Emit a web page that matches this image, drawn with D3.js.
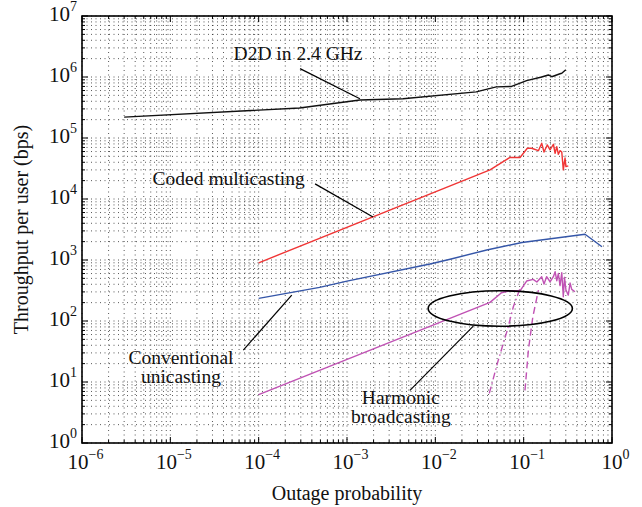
<!DOCTYPE html>
<html>
<head>
<meta charset="utf-8">
<script src="https://cdn.jsdelivr.net/npm/d3@7"></script>
<style>
    body { margin: 0; background: #fff; }
    text { font-family: "Liberation Serif", "DejaVu Serif", serif; fill: #111; }
</style>
</head>
<body>
<div id="chart"></div>
<script>
// Series values (outage probability, throughput in bps)
const d2dX = [3e-6, 2.9e-4, 1.4e-3, 4.3e-3, 0.029, 0.049, 0.073, 0.108, 0.16, 0.19, 0.208, 0.258, 0.27, 0.30];
const d2dY = [2.2e5, 3.1e5, 4.2e5, 4.4e5, 5.7e5, 6.9e5, 7.0e5, 8.7e5, 1.0e6, 1.08e6, 1.01e6, 1.13e6, 1.15e6, 1.32e6];

const codedX = [1e-4, 0.0416, 0.070, 0.091, 0.110, 0.123, 0.147, 0.160, 0.170, 0.185, 0.199, 0.217, 0.227, 0.237, 0.247, 0.258, 0.270, 0.281, 0.294, 0.301, 0.320];
const codedY = [900, 3.0e4, 4.8e4, 4.8e4, 6.8e4, 6.8e4, 6.2e4, 8.2e4, 5.9e4, 7.7e4, 6.4e4, 7.9e4, 5.6e4, 7.2e4, 5.4e4, 6.2e4, 5.9e4, 3.0e4, 4.7e4, 3.4e4, 3.5e4];

const uniX = [1e-4, 4.9e-4, 1e-3, 8.7e-3, 0.0147, 0.0382, 0.0957, 0.495, 0.77];
const uniY = [235, 356, 450, 860, 1030, 1460, 1940, 2640, 1650];

const harmX = [1e-4, 0.0416, 0.0561, 0.070, 0.091, 0.108, 0.128, 0.141, 0.160, 0.170, 0.182, 0.199, 0.217, 0.227, 0.237, 0.247, 0.258, 0.270, 0.281, 0.290, 0.301, 0.320, 0.335, 0.350, 0.381];
const harmY = [6.2, 202, 290, 313, 313, 452, 482, 435, 532, 404, 532, 440, 532, 643, 457, 600, 380, 620, 250, 520, 322, 266, 420, 330, 302];

const harmDashDotX = [0.0408, 0.0516, 0.0653, 0.0764, 0.091];
const harmDashDotY = [6.5, 22.8, 71, 171, 343];

const harmDashX = [0.1035, 0.113, 0.127, 0.147];
const harmDashY = [7.3, 33, 117, 322];

// Ellipse around the harmonic broadcasting curves (data bounds)
const ellipseX = [0.0083, 0.356];
const ellipseY = [82, 313];

// Axis decades
const xDecades = [-6, -5, -4, -3, -2, -1, 0];
const yDecades = [0, 1, 2, 3, 4, 5, 6, 7];

// Annotations: label lines at a data point, leader line between two data points
const notes = [
    { lines: ['D2D in 2.4 GHz'], at: [2.79e-4, 1.92e6], from: [2.94e-4, 1.37e6], to: [1.40e-3, 4.4e5] },
    { lines: ['Coded multicasting'], at: [4.58e-5, 1.7e4], from: [4.35e-4, 1.77e4], to: [1.97e-3, 5.08e3] },
    { lines: ['Conventional', 'unicasting'], at: [1.32e-5, 20.1], from: [6.7e-5, 33.3], to: [2.37e-4, 266] },
    { lines: ['Harmonic', 'broadcasting'], at: [4.07e-3, 4.32], from: [5.16e-3, 7.3], to: [0.0269, 82.5] }
];

const CHART_WIDTH = 642;
const CHART_HEIGHT = 507;
const MARGIN = { left: 82, right: 30, top: 16, bottom: 64 };

const svg = d3.select('#chart').append('svg')
    .attr('width', CHART_WIDTH)
    .attr('height', CHART_HEIGHT);

const g = svg.append('g')
    .attr('transform', `translate(${MARGIN.left},${MARGIN.top})`);

const width = CHART_WIDTH - MARGIN.left - MARGIN.right;
const height = CHART_HEIGHT - MARGIN.top - MARGIN.bottom;

// Scales
const x = d3.scaleLog().domain([1e-6, 1]).range([0, width]);
const y = d3.scaleLog().domain([1, 1e7]).range([height, 0]);

const xTicks = x.ticks();
const yTicks = y.ticks();
const isMajor = v => Math.abs(Math.log10(v) - Math.round(Math.log10(v))) < 1e-9;

// Dotted grid (major and minor)
g.append('g').selectAll('line')
    .data(xTicks)
    .enter().append('line')
    .attr('x1', d => x(d)).attr('x2', d => x(d))
    .attr('y1', 0).attr('y2', height)
    .attr('stroke', '#000')
    .attr('stroke-width', 1)
    .attr('stroke-dasharray', '1,3.5')
    .attr('opacity', 0.65);

g.append('g').selectAll('line')
    .data(yTicks)
    .enter().append('line')
    .attr('x1', 0).attr('x2', width)
    .attr('y1', d => y(d)).attr('y2', d => y(d))
    .attr('stroke', '#000')
    .attr('stroke-width', 1)
    .attr('stroke-dasharray', '1,3.5')
    .attr('opacity', 0.65);

// Inward ticks on all four sides
const tickG = g.append('g').attr('stroke', '#000').attr('stroke-width', 1);
xTicks.forEach(v => {
    const len = isMajor(v) ? 6 : 3;
    tickG.append('line').attr('x1', x(v)).attr('x2', x(v)).attr('y1', height).attr('y2', height - len);
    tickG.append('line').attr('x1', x(v)).attr('x2', x(v)).attr('y1', 0).attr('y2', len);
});
yTicks.forEach(v => {
    const len = isMajor(v) ? 6 : 3;
    tickG.append('line').attr('x1', 0).attr('x2', len).attr('y1', y(v)).attr('y2', y(v));
    tickG.append('line').attr('x1', width).attr('x2', width - len).attr('y1', y(v)).attr('y2', y(v));
});

// Frame
g.append('rect')
    .attr('width', width)
    .attr('height', height)
    .attr('fill', 'none')
    .attr('stroke', '#000')
    .attr('stroke-width', 1.6);

const expText = e => (e < 0 ? '\u2212' + (-e) : String(e));

// X tick labels
xDecades.forEach(e => {
    const t = g.append('text')
        .attr('x', x(Math.pow(10, e)))
        .attr('y', height + 25.6)
        .attr('dx', 3.5)
        .attr('text-anchor', 'middle')
        .style('font-size', '21px');
    t.append('tspan').text('10');
    t.append('tspan').attr('dy', -10).style('font-size', '14px').text(expText(e));
});

// Y tick labels
yDecades.forEach(e => {
    const t = g.append('text')
        .attr('x', -5)
        .attr('y', y(Math.pow(10, e)) + 5)
        .attr('text-anchor', 'end')
        .style('font-size', '21px');
    t.append('tspan').text('10');
    t.append('tspan').attr('dy', -10).style('font-size', '14px').text(expText(e));
});

// Axis titles
svg.append('text')
    .attr('x', MARGIN.left + width / 2)
    .attr('y', 500)
    .attr('text-anchor', 'middle')
    .style('font-size', '20px')
    .text('Outage probability');

svg.append('text')
    .attr('transform', `translate(28,${MARGIN.top + height / 2}) rotate(-90)`)
    .attr('text-anchor', 'middle')
    .style('font-size', '20px')
    .text('Throughput per user (bps)');

// Lines
const line = d3.line()
    .x(d => x(d[0]))
    .y(d => y(d[1]));

const series = [
    { xs: d2dX, ys: d2dY, color: '#111111', dash: null },
    { xs: codedX, ys: codedY, color: '#f03535', dash: null },
    { xs: uniX, ys: uniY, color: '#3556a8', dash: null },
    { xs: harmX, ys: harmY, color: '#c052b4', dash: null },
    { xs: harmDashDotX, ys: harmDashDotY, color: '#c052b4', dash: '7,3,1.5,3' },
    { xs: harmDashX, ys: harmDashY, color: '#c052b4', dash: '7,4' }
];

series.forEach(s => {
    g.append('path')
        .datum(d3.zip(s.xs, s.ys))
        .attr('d', line)
        .attr('fill', 'none')
        .attr('stroke', s.color)
        .attr('stroke-width', 1.4)
        .attr('stroke-linejoin', 'round')
        .attr('stroke-dasharray', s.dash);
});

// Ellipse
g.append('ellipse')
    .attr('cx', (x(ellipseX[0]) + x(ellipseX[1])) / 2)
    .attr('cy', (y(ellipseY[0]) + y(ellipseY[1])) / 2)
    .attr('rx', Math.abs(x(ellipseX[1]) - x(ellipseX[0])) / 2)
    .attr('ry', Math.abs(y(ellipseY[1]) - y(ellipseY[0])) / 2)
    .attr('fill', 'none')
    .attr('stroke', '#000')
    .attr('stroke-width', 1.6);

// Annotations
notes.forEach(n => {
    g.append('line')
        .attr('x1', x(n.from[0])).attr('y1', y(n.from[1]))
        .attr('x2', x(n.to[0])).attr('y2', y(n.to[1]))
        .attr('stroke', '#000')
        .attr('stroke-width', 1.2);
    const t = g.append('text')
        .attr('x', x(n.at[0]))
        .attr('y', y(n.at[1]))
        .attr('text-anchor', 'middle')
        .style('font-size', '19.5px');
    n.lines.forEach((l, i) => {
        t.append('tspan')
            .attr('x', x(n.at[0]))
            .attr('dy', i === 0 ? 0 : 19)
            .text(l);
    });
});
</script>
</body>
</html>
